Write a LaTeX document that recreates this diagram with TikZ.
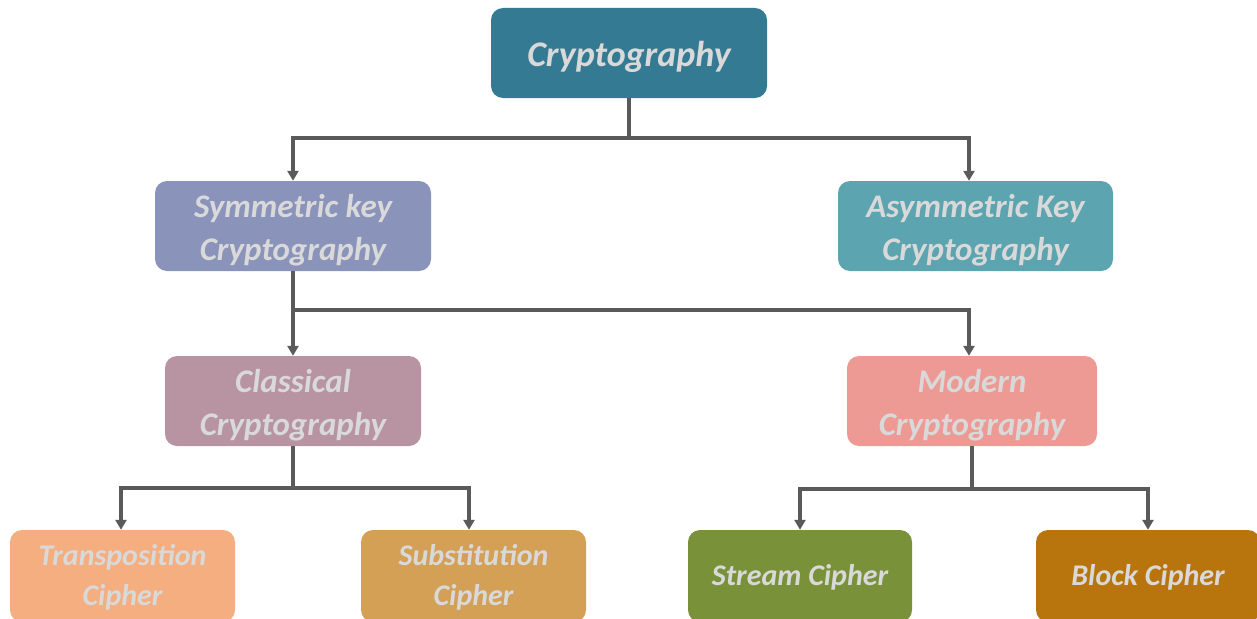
\documentclass[tikz,border=0pt]{standalone}
\usepackage{fontspec}
\setmainfont{Carlito}
\usetikzlibrary{arrows.meta}
\definecolor{cTop}{HTML}{357A93}
\definecolor{cSym}{HTML}{8A93BA}
\definecolor{cAsym}{HTML}{5CA5B0}
\definecolor{cClass}{HTML}{B894A3}
\definecolor{cMod}{HTML}{EE9A94}
\definecolor{cTrans}{HTML}{F4AE80}
\definecolor{cSubst}{HTML}{D4A055}
\definecolor{cStream}{HTML}{79923A}
\definecolor{cBlock}{HTML}{B8750E}
\definecolor{cLine}{HTML}{5A5A5A}
\definecolor{cText}{HTML}{D9D9D9}
\tikzset{
  box/.style={rounded corners=12pt, inner sep=0pt, minimum height=90pt},
  txt/.style={align=center, text=cText, inner sep=0pt, yshift=-4pt,
    font=\bfseries\itshape\fontsize{33}{43}\selectfont},
  bigtxt/.style={txt, font=\bfseries\itshape\fontsize{36}{43}\selectfont},
  smalltxt/.style={txt, yshift=3pt, font=\bfseries\itshape\fontsize{30}{40}\selectfont},
  link/.style={draw=cLine, line width=3.2pt},
  arr/.style={link, -{Triangle[length=10pt,width=11pt]}}
}
\begin{document}
\begin{tikzpicture}[x=1pt,y=-1pt]
\useasboundingbox (0,0) rectangle (1257,618);
\begin{scope}
\clip (0,0) rectangle (1257,618);
\node[box, fill=cTop, minimum width=276pt,
      label={[bigtxt]center:Cryptography}] (top) at (629,53) {};
\node[box, fill=cSym, minimum width=276pt,
      label={[txt]center:Symmetric key\\Cryptography}] (sym) at (293,226) {};
\node[box, fill=cAsym, minimum width=275pt,
      label={[txt]center:Asymmetric Key\\Cryptography}] (asym) at (975.5,226) {};
\node[box, fill=cClass, minimum width=256pt,
      label={[txt]center:Classical\\Cryptography}] (class) at (293,401) {};
\node[box, fill=cMod, minimum width=250pt,
      label={[txt]center:Modern\\Cryptography}] (mod) at (972,401) {};
\node[box, fill=cTrans, minimum width=225pt, minimum height=92pt,
      label={[smalltxt]center:Transposition\\Cipher}] (trans) at (122.5,576) {};
\node[box, fill=cSubst, minimum width=225pt, minimum height=92pt,
      label={[smalltxt]center:Substitution\\Cipher}] (subst) at (473.5,576) {};
\node[box, fill=cStream, minimum width=224pt, minimum height=92pt,
      label={[smalltxt]center:Stream Cipher}] (stream) at (800,576) {};
\node[box, fill=cBlock, minimum width=224pt, minimum height=92pt,
      label={[smalltxt]center:Block Cipher}] (block) at (1148,576) {};
\end{scope}
% branch lines
\coordinate (j1) at (629,138);
\draw[link] (top.south) -- (j1);
\draw[arr] (j1) -| (sym.north);
\draw[arr] (j1) -| (asym.north -| 969,0);
\coordinate (j2) at (293,310);
\draw[link] (sym.south) -- (j2);
\draw[arr] (j2) -- (class.north);
\draw[arr] (j2) -| (mod.north -| 969,0);
\coordinate (j3) at (293,488);
\draw[link] (class.south) -- (j3);
\draw[arr] (j3) -| (trans.north -| 121,0);
\draw[arr] (j3) -| (subst.north -| 469,0);
\coordinate (j4) at (972,489);
\draw[link] (mod.south) -- (j4);
\draw[arr] (j4) -| (stream.north);
\draw[arr] (j4) -| (block.north);
\end{tikzpicture}
\end{document}
